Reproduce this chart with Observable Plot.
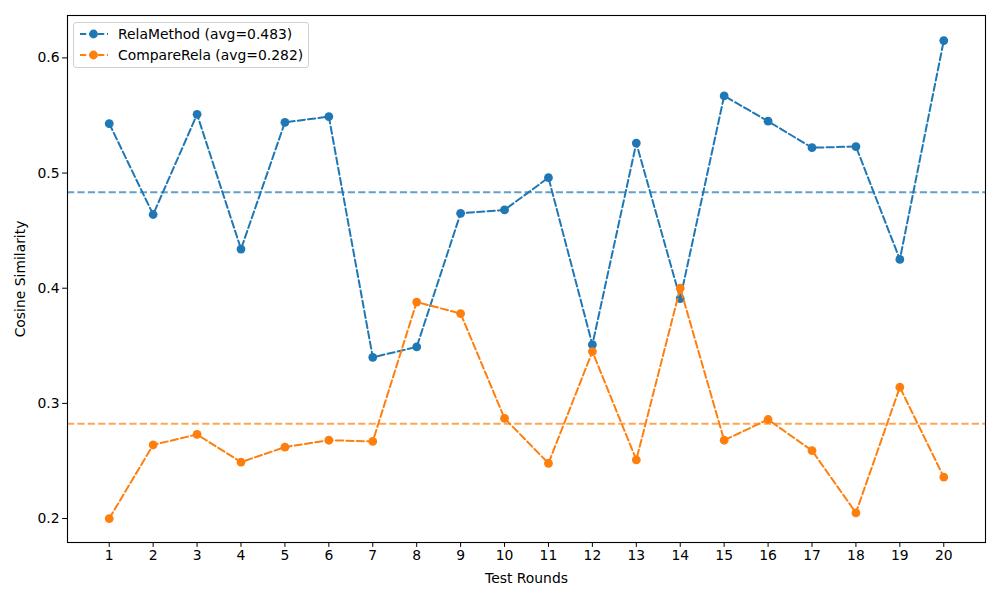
<!DOCTYPE html>
<html>
<head>
<meta charset="utf-8">
<script src="https://cdn.jsdelivr.net/npm/d3@7"></script>
<script src="https://cdn.jsdelivr.net/npm/@observablehq/plot@0.6"></script>
<style>
  body { margin: 0; background: #fff; font-family: "DejaVu Sans", sans-serif; }
  #wrap { position: relative; width: 1000px; height: 600px; }
  #legend { position: absolute; left: 73px; top: 22px; width: 236px; height: 46px;
    border: 1px solid #d0d0d0; border-radius: 3px; background: rgba(255,255,255,0.8);
    font-size: 13.9px; color: #000; box-sizing: border-box; }
  .row { position: absolute; left: 0; height: 18px; display: flex; align-items: center; }
  .row svg { margin-left: 5px; }
  .row span { margin-left: 10px; white-space: nowrap; }
</style>
</head>
<body>
<div id="wrap"><div id="chart"></div><div id="legend"></div></div>
<script>
const rounds = d3.range(1, 21);
const relaMethod = [0.543, 0.464, 0.551, 0.434, 0.544, 0.549, 0.340, 0.349, 0.465, 0.468,
                    0.496, 0.351, 0.526, 0.391, 0.567, 0.545, 0.522, 0.523, 0.425, 0.615];
const compareRela = [0.200, 0.264, 0.273, 0.249, 0.262, 0.268, 0.267, 0.388, 0.378, 0.287,
                     0.248, 0.345, 0.251, 0.400, 0.268, 0.286, 0.259, 0.205, 0.314, 0.236];
const seriesNames = ["RelaMethod", "CompareRela"];
const seriesColors = ["#1f77b4", "#ff7f0e"];
const yTicks = [0.2, 0.3, 0.4, 0.5, 0.6];

const avgA = d3.mean(relaMethod), avgB = d3.mean(compareRela);
const dataA = rounds.map((r, i) => ({round: r, value: relaMethod[i]}));
const dataB = rounds.map((r, i) => ({round: r, value: compareRela[i]}));

const dash = "7.2,3.2";
const lw = 2;
const chart = Plot.plot({
  width: 1000, height: 600,
  marginLeft: 67, marginRight: 15, marginTop: 15, marginBottom: 58,
  style: {fontFamily: "DejaVu Sans, sans-serif", fontSize: "13.9px", color: "#000", background: "#fff"},
  x: {domain: [0.05, 20.95], ticks: rounds, tickFormat: d => String(d), label: "Test Rounds", labelArrow: "none", labelAnchor: "center", labelOffset: 40, tickSize: 4.9, tickPadding: 3},
  y: {domain: [0.1792, 0.6368], ticks: yTicks, tickFormat: d3.format(".1f"), label: "Cosine Similarity", labelArrow: "none", labelAnchor: "center", labelOffset: 52, tickSize: 4.9, tickPadding: 3},
  marks: [
    Plot.ruleY([avgA], {stroke: seriesColors[0], strokeOpacity: 0.7, strokeWidth: lw, strokeDasharray: dash}),
    Plot.ruleY([avgB], {stroke: seriesColors[1], strokeOpacity: 0.7, strokeWidth: lw, strokeDasharray: dash}),
    Plot.line(dataA, {x: "round", y: "value", stroke: seriesColors[0], strokeWidth: lw, strokeDasharray: dash}),
    Plot.dot(dataA, {x: "round", y: "value", fill: seriesColors[0], r: 4.4, stroke: "none"}),
    Plot.line(dataB, {x: "round", y: "value", stroke: seriesColors[1], strokeWidth: lw, strokeDasharray: dash}),
    Plot.dot(dataB, {x: "round", y: "value", fill: seriesColors[1], r: 4.4, stroke: "none"}),
    Plot.frame({stroke: "#000", strokeWidth: 1.1})
  ]
});
document.getElementById("chart").appendChild(chart);

const legend = d3.select("#legend");
const labels = [`${seriesNames[0]} (avg=${avgA.toFixed(3)})`, `${seriesNames[1]} (avg=${avgB.toFixed(3)})`];
labels.forEach((t, i) => {
  const row = legend.append("div").attr("class", "row").style("top", (2 + i * 21) + "px");
  const s = row.append("svg").attr("width", 29).attr("height", 14);
  s.append("line").attr("x1", 0).attr("x2", 29).attr("y1", 7).attr("y2", 7)
    .attr("stroke", seriesColors[i]).attr("stroke-width", lw).attr("stroke-dasharray", "6.2,2.8").attr("stroke-dashoffset", -1);
  s.append("circle").attr("cx", 14.5).attr("cy", 7).attr("r", 4.4).attr("fill", seriesColors[i]);
  row.append("span").text(t);
});
</script>
</body>
</html>
